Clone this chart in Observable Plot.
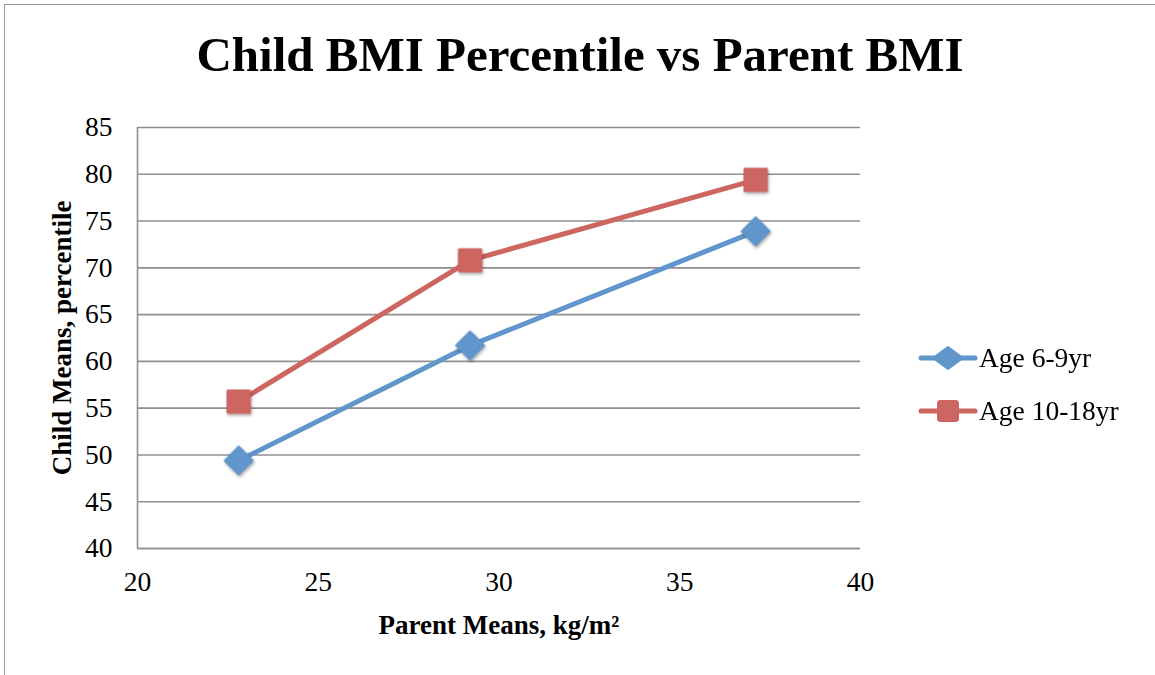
<!DOCTYPE html>
<html>
<head>
<meta charset="utf-8">
<script src="https://cdn.jsdelivr.net/npm/d3@7"></script>
<script src="https://cdn.jsdelivr.net/npm/@observablehq/plot@0.6"></script>
<style>
  body { margin: 0; background: #fff; }
  #wrap { position: relative; width: 1155px; height: 675px; overflow: hidden; font-family: "Liberation Serif", "DejaVu Serif", serif; }
  #frame { position: absolute; left: 4px; top: 4px; right: -10px; bottom: -10px; border-top: 1.5px solid #9a9a9a; border-left: 1.5px solid #9a9a9a; pointer-events: none; }
  #title { position: absolute; left: 0; width: 1160px; top: 30px; text-align: center; font-weight: bold; font-size: 49px; color: #000; line-height: 1; }
  .leg { position: absolute; left: 918px; display: flex; align-items: center; font-size: 27.5px; color: #000; }
  .leg svg { margin-right: 3px; overflow: visible; }
</style>
</head>
<body>
<div id="wrap">
  <div id="chart"></div>
  <div id="frame"></div>
  <div id="title"></div>
  <div id="legend"></div>
</div>
<script>
const chartTitle = "Child BMI Percentile vs Parent BMI";
const xLabel = "Parent Means, kg/m²";
const yLabel = "Child Means, percentile";
const seriesNames = ["Age 6-9yr", "Age 10-18yr"];
const seriesColors = ["#6096CB", "#CD6560"];
const seriesSymbols = ["diamond2", "square"];
const parentBMI = [22.8, 29.2, 37.1];
const age6to9 = [49.4, 61.7, 73.9];
const age10to18 = [55.7, 70.8, 79.4];
const xTicks = [20, 25, 30, 35, 40];
const yTicks = [40, 45, 50, 55, 60, 65, 70, 75, 80, 85];

const data = [];
parentBMI.forEach((x, i) => data.push({series: seriesNames[0], x, y: age6to9[i]}));
parentBMI.forEach((x, i) => data.push({series: seriesNames[1], x, y: age10to18[i]}));

const font = '"Liberation Serif", "DejaVu Serif", serif';

const plot = Plot.plot({
  width: 1155,
  height: 675,
  marginLeft: 137,
  marginRight: 295,
  marginTop: 127,
  marginBottom: 127,
  style: {fontFamily: font, background: "transparent", overflow: "visible"},
  x: {domain: [20, 40]},
  y: {domain: [40, 85]},
  color: {domain: seriesNames, range: seriesColors},
  symbol: {domain: seriesNames, range: seriesSymbols},
  marks: [
    Plot.gridY(yTicks, {stroke: "#8f8f8f", strokeOpacity: 1, strokeWidth: 1.6}),
    Plot.ruleX([20], {stroke: "#8f8f8f", strokeWidth: 1.6}),
    Plot.ruleY([40], {stroke: "#8f8f8f", strokeWidth: 1.6}),
    Plot.axisY(yTicks, {tickSize: 0, tickPadding: 25, fontSize: 27.5, label: null, fill: "#000"}),
    Plot.axisX(xTicks, {tickSize: 0, tickPadding: 23, fontSize: 27.5, label: null, fill: "#000"}),
    Plot.text([yLabel], {frameAnchor: "left", dx: -75, rotate: -90, text: d => d, fontSize: 27, fontWeight: "bold", fill: "#000", textAnchor: "middle", lineAnchor: "middle"}),
    Plot.text([xLabel], {frameAnchor: "bottom", dy: 77, text: d => d, fontSize: 27, fontWeight: "bold", fill: "#000", textAnchor: "middle", lineAnchor: "middle"}),
    Plot.line(data, {x: "x", y: "y", z: "series", stroke: "series", strokeWidth: 5, strokeLinejoin: "round", strokeLinecap: "round"}),
    Plot.dot(data, {x: "x", y: "y", symbol: "series", fill: "series", stroke: "series", strokeWidth: 2.5, strokeLinejoin: "round", r: 12.3})
  ]
});

plot.querySelectorAll('g[aria-label="dot"]').forEach(g => {
  g.style.filter = "drop-shadow(1px 2.5px 1.5px rgba(0,0,0,0.3))";
});

document.getElementById("chart").appendChild(plot);
document.getElementById("title").textContent = chartTitle;

// Legend
const legend = document.getElementById("legend");
const legTops = [342, 395];
seriesNames.forEach((name, i) => {
  const item = document.createElement("div");
  item.className = "leg";
  item.style.top = legTops[i] + "px";
  const c = seriesColors[i];
  const marker = i === 0
    ? `<path d="M45,16 L30,27 L15,16 L30,5 Z" fill="${c}" stroke="${c}" stroke-width="2" stroke-linejoin="round"/>`
    : `<rect x="19.5" y="5.5" width="21" height="21" rx="2.5" fill="${c}" stroke="${c}" stroke-width="1"/>`;
  item.innerHTML = `<svg width="58" height="32" viewBox="0 0 58 32"><line x1="3" y1="16" x2="57" y2="16" stroke="${c}" stroke-width="5" stroke-linecap="round"/>${marker}</svg><span>${name}</span>`;
  legend.appendChild(item);
});
</script>
</body>
</html>
